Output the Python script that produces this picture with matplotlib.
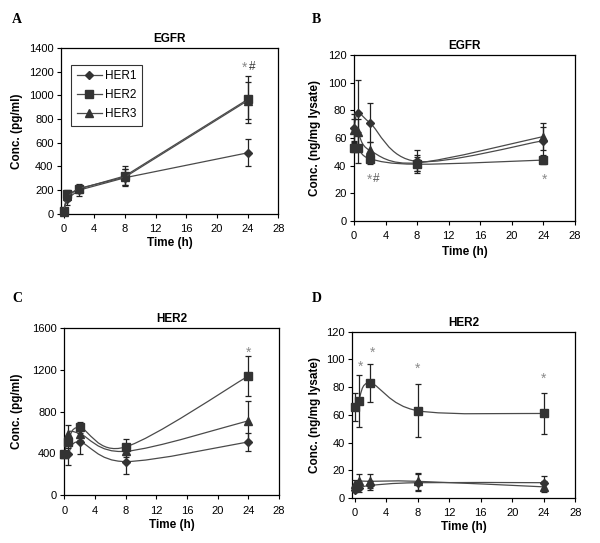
import numpy as np
import matplotlib
matplotlib.use("Agg")
import matplotlib.pyplot as plt
from matplotlib.path import Path
from matplotlib.patches import PathPatch
from matplotlib.lines import Line2D

plt.rcParams["font.family"] = ["Liberation Sans", "DejaVu Sans"]

# time points (h)
time = [0, 0.5, 2, 8, 24]
series = ["HER1", "HER2", "HER3"]

# A: EGFR in medium (pg/ml)
a_her1 = [20, 130, 200, 305, 515]
a_her1_err = [10, 55, 50, 70, 115]
a_her2 = [25, 165, 210, 320, 965]
a_her2_err = [10, 35, 35, 80, 195]
a_her3 = [20, 150, 215, 310, 955]
a_her3_err = [10, 40, 30, 70, 155]

# B: EGFR in lysate (ng/mg lysate)
b_her1 = [67, 78, 71, 43, 58]
b_her1_err = [10, 24, 14, 8, 10]
b_her2 = [53, 53, 45, 41, 44]
b_her2_err = [3, 11, 4, 5, 3]
b_her3 = [66, 64, 51, 42, 61]
b_her3_err = [8, 10, 6, 6, 10]

# C: HER2 in medium (pg/ml)
c_her1 = [395, 395, 510, 322, 510]
c_her1_err = [20, 110, 120, 115, 85]
c_her2 = [395, 510, 648, 462, 1140]
c_her2_err = [20, 60, 55, 75, 195]
c_her3 = [395, 590, 590, 420, 712]
c_her3_err = [20, 80, 60, 50, 190]

# D: HER2 in lysate (ng/mg lysate)
d_her1 = [6, 7, 9, 11, 11]
d_her1_err = [2, 3, 3, 6, 5]
d_her2 = [65.5, 70, 83, 63, 61]
d_her2_err = [10, 18.5, 14, 19, 15]
d_her3 = [10, 12, 12, 12, 8]
d_her3_err = [3, 5, 5, 6, 4]

markers = {"HER1": ("D", 4.4), "HER2": ("s", 5.4), "HER3": ("^", 6.0)}
line_col = "#4a4a4a"
mark_col = "#333333"


def smooth_path(x, y):
    # excel-like smoothed line as cubic bezier segments
    pts = np.column_stack([x, y]).astype(float)
    n = len(pts)
    verts = [pts[0]]
    codes = [Path.MOVETO]
    for i in range(n - 1):
        p0 = pts[i - 1] if i > 0 else pts[i]
        p1 = pts[i]
        p2 = pts[i + 1]
        p3 = pts[i + 2] if i + 2 < n else pts[i + 1]
        verts += [p1 + (p2 - p0) / 6, p2 - (p3 - p1) / 6, p2]
        codes += [Path.CURVE4] * 3
    return Path(verts, codes)


def panel(ax, data, smooth, title, ylabel, ymax, ystep, xmin, ylab_x, xlab_y):
    for name, (vals, errs) in zip(series, data):
        m, ms = markers[name]
        if smooth:
            ax.add_patch(PathPatch(smooth_path(time, vals), fill=False,
                                   edgecolor=line_col, lw=0.9, zorder=2))
            ls = "none"
        else:
            ls = "-"
        ax.errorbar(time, vals, yerr=errs, fmt=m, ls=ls, color=line_col, lw=0.9,
                    ms=ms, mfc=mark_col, mec=mark_col, ecolor="#222222",
                    elinewidth=0.9, capsize=2.5, capthick=0.9,
                    zorder=3, clip_on=False)
    ax.set_xlim(xmin, 28)
    ax.set_ylim(0, ymax)
    ax.set_xticks(range(0, 29, 4))
    ax.set_yticks(np.arange(0, ymax + 1, ystep))
    ax.tick_params(direction="out", length=3, width=0.8, labelsize=8)
    ax.tick_params(axis="x", pad=4.5)
    ax.tick_params(axis="y", pad=2.5)
    for s in ax.spines.values():
        s.set_linewidth(0.9)
    ax.set_title(title, fontsize=8.5, fontweight="bold", pad=4.5)
    ax.set_xlabel("Time (h)", fontsize=8.5, fontweight="bold", va="center")
    ax.set_ylabel(ylabel, fontsize=8.5, fontweight="bold", va="center")
    ax.xaxis.set_label_coords(0.5, xlab_y)
    ax.yaxis.set_label_coords(ylab_x, 0.5)


fig = plt.figure(figsize=(6, 5.43), dpi=100)
axA = fig.add_axes([0.102, 0.606, 0.362, 0.306])
axB = fig.add_axes([0.590, 0.593, 0.368, 0.306])
axC = fig.add_axes([0.107, 0.088, 0.358, 0.308])
axD = fig.add_axes([0.587, 0.083, 0.372, 0.306])

panel(axA, [(a_her1, a_her1_err), (a_her2, a_her2_err), (a_her3, a_her3_err)],
      False, "EGFR", "Conc. (pg/ml)", 1400, 200, -0.3, -0.203, -0.175)
panel(axB, [(b_her1, b_her1_err), (b_her2, b_her2_err), (b_her3, b_her3_err)],
      True, "EGFR", "Conc. (ng/mg lysate)", 120, 20, 0, -0.176, -0.187)
panel(axC, [(c_her1, c_her1_err), (c_her2, c_her2_err), (c_her3, c_her3_err)],
      True, "HER2", "Conc. (pg/ml)", 1600, 400, 0, -0.219, -0.18)
panel(axD, [(d_her1, d_her1_err), (d_her2, d_her2_err), (d_her3, d_her3_err)],
      True, "HER2", "Conc. (ng/mg lysate)", 120, 20, -0.3, -0.166, -0.175)

# legend: line + marker only
handles = [Line2D([], [], color=line_col, lw=0.9, marker=markers[n][0],
                  ms=markers[n][1], mfc=mark_col, mec=mark_col) for n in series]
leg = axA.legend(handles, series, loc="upper left", bbox_to_anchor=(0.046, 0.898),
                 fontsize=8.5, frameon=True, fancybox=False, handlelength=2.2,
                 borderpad=0.45, labelspacing=0.6, handletextpad=0.25,
                 borderaxespad=0)
leg.get_frame().set_edgecolor("black")
leg.get_frame().set_linewidth(0.8)

# significance marks
star_col = "#8a8a8a"
axA.text(24, 1235, "*", color=star_col, fontsize=10, ha="right", va="center")
axA.text(24.1, 1235, "#", color="#333333", fontsize=8.5, ha="left", va="center")
axB.text(2.3, 30, "*", color=star_col, fontsize=10, ha="right", va="center")
axB.text(2.35, 30, "#", color="#555555", fontsize=8.5, ha="left", va="center")
axB.text(24.2, 30, "*", color=star_col, fontsize=10, ha="center", va="center")
axC.text(24, 1360, "*", color=star_col, fontsize=10, ha="center", va="center")
axD.text(0.7, 95, "*", color=star_col, fontsize=10, ha="center", va="center")
axD.text(2.3, 105, "*", color=star_col, fontsize=10, ha="center", va="center")
axD.text(8, 93, "*", color=star_col, fontsize=10, ha="center", va="center")
axD.text(24, 86, "*", color=star_col, fontsize=10, ha="center", va="center")

# panel letters
for x, y, s in [(12, 23, "A"), (312, 23, "B"), (12, 302, "C"), (312, 302, "D")]:
    fig.text(x / 600, 1 - y / 543, s, fontsize=10, fontweight="bold",
             family="Liberation Serif", ha="left", va="baseline")

fig.savefig("out.png", dpi=100)
